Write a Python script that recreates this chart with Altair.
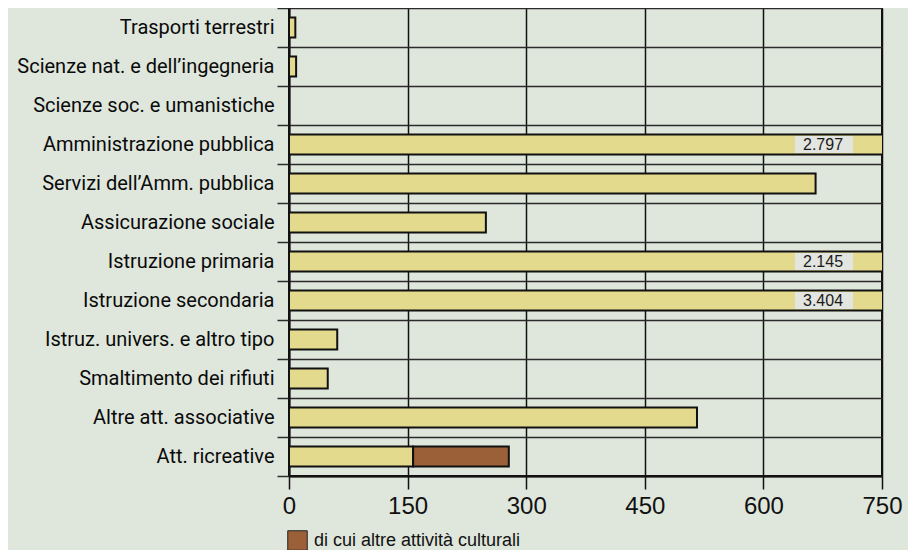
import altair as alt
import pandas as pd

categories = [
    "Trasporti terrestri",
    "Scienze nat. e dell\u2019ingegneria",
    "Scienze soc. e umanistiche",
    "Amministrazione pubblica",
    "Servizi dell\u2019Amm. pubblica",
    "Assicurazione sociale",
    "Istruzione primaria",
    "Istruzione secondaria",
    "Istruz. univers. e altro tipo",
    "Smaltimento dei rifiuti",
    "Altre att. associative",
    "Att. ricreative",
]
base_values = [8, 9, 0, 2797, 666, 249, 2145, 3404, 61, 49, 516, 157]
cultural_values = [0, 0, 0, 0, 0, 0, 0, 0, 0, 0, 0, 121]
series_names = ["totale", "di cui altre attivit\u00e0 culturali"]
series_colors = ["#e4da8e", "#9c6039"]
x_ticks = [0, 150, 300, 450, 600, 750]
x_max = 750

rows = []
for c, b, k in zip(categories, base_values, cultural_values):
    if b > 0:
        rows.append({"cat": c, "serie": series_names[0], "valore": b, "ordine": 0})
    if k > 0:
        rows.append({"cat": c, "serie": series_names[1], "valore": k, "ordine": 1})
df = pd.DataFrame(rows)

lab = pd.DataFrame(
    [
        {"cat": c, "testo": f"{b:,}".replace(",", ".")}
        for c, b in zip(categories, base_values)
        if b > x_max
    ]
)

FONT_NARROW = "Roboto, DejaVu Sans Condensed, sans-serif"
FONT = "Liberation Sans, Arial, sans-serif"

y_scale = alt.Scale(domain=categories, paddingInner=0, paddingOuter=0)

y_enc = alt.Y(
    "cat:N",
    sort=categories,
    scale=y_scale,
    axis=alt.Axis(
        title=None,
        tickBand="extent",
        grid=True,
        gridColor="#2a2a2a",
        gridWidth=1.5,
        tickSize=12,
        tickWidth=1.5,
        tickColor="#2a2a2a",
        domain=True,
        domainColor="#111111",
        domainWidth=2,
        labelFont=FONT_NARROW,
        labelFontSize=20,
        labelColor="#0a0a0a",
        labelPadding=3,
        labelLimit=400,
    ),
)

x_scale = alt.Scale(domain=[0, x_max], nice=False, zero=True)
x_axis = alt.Axis(
    title=None,
    values=x_ticks,
    grid=True,
    gridColor="#111111",
    gridWidth=1.5,
    tickSize=13,
    tickWidth=1.5,
    tickColor="#111111",
    domain=True,
    domainColor="#111111",
    domainWidth=2,
    labelFont=FONT,
    labelFontSize=24,
    labelColor="#111111",
    labelPadding=5,
    labelFlush=False,
)

bars = (
    alt.Chart(df)
    .mark_bar(size=20, stroke="#111111", strokeWidth=2, clip=True)
    .encode(
        y=y_enc,
        x=alt.X("valore:Q", stack="zero", scale=x_scale, axis=x_axis),
        color=alt.Color(
            "serie:N",
            scale=alt.Scale(domain=series_names, range=series_colors),
            legend=alt.Legend(
                title=None,
                values=[series_names[1]],
                orient="none",
                legendX=-2,
                legendY=522,
                symbolType="square",
                symbolSize=380,
                symbolStrokeColor="#222222",
                symbolStrokeWidth=1,
                labelFont=FONT,
                labelFontSize=18,
                labelColor="#111111",
                labelOffset=6,
                labelLimit=400,
            ),
        ),
        order=alt.Order("ordine:Q"),
    )
)

box = (
    alt.Chart(lab)
    .mark_bar(size=17, color="#e2e5e0", xOffset=-87, x2Offset=-29)
    .encode(y=alt.Y("cat:N", sort=categories, scale=y_scale), x=alt.datum(x_max), x2=alt.datum(x_max))
)

text = (
    alt.Chart(lab)
    .mark_text(dx=-59, font=FONT, fontSize=16, color="#1a1a1a", align="center", baseline="middle")
    .encode(y=alt.Y("cat:N", sort=categories, scale=y_scale), x=alt.datum(x_max), text="testo:N")
)

chart = (
    alt.layer(bars, box, text)
    .properties(
        width=593,
        height=468,
        background="#dfe6dc",
        autosize=alt.AutoSizeParams(type="none"),
        padding={"left": 281, "top": 0, "right": 26, "bottom": 90},
    )
    .configure_view(stroke="#111111", strokeWidth=2)
)

chart.save("out.html", embed_options={"renderer": "svg", "actions": False})
